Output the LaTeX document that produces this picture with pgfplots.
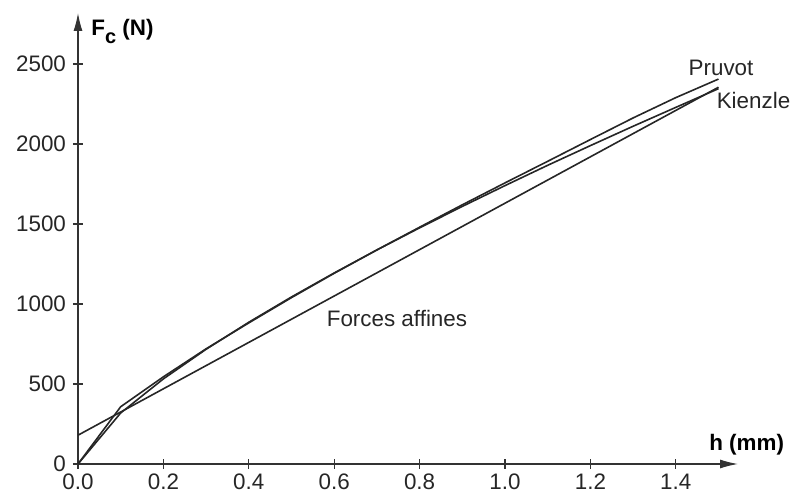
\documentclass[border=0pt]{standalone}
\usepackage{fontspec}
\setmainfont{Liberation Sans}
\usepackage{pgfplots}
\pgfplotsset{compat=1.18}
\usetikzlibrary{arrows.meta}
\begin{document}
\begin{tikzpicture}
\path[use as bounding box] (0,0) rectangle (396pt,248.5pt);
\begin{axis}[
  at={(39pt,16.5pt)}, anchor=south west,
  scale only axis, width=330pt, height=225.5pt,
  xmin=0, xmax=1.5457, ymin=0, ymax=2819,
  axis lines=left,
  axis line style={line width=0.6pt, black!80, -{Latex[length=9pt,width=4.5pt]}},
  clip=false,
  xtick={0,0.2,0.4,0.6,0.8,1.0,1.2,1.4},
  xticklabels={0.0,0.2,0.4,0.6,0.8,1.0,1.2,1.4},
  ytick={0,500,1000,1500,2000,2500},
  yticklabels={0,500,1000,1500,2000,2500},
  tick align=center, major tick length=5pt,
  tick style={line width=0.6pt, black!80},
  every tick label/.append style={font=\fontsize{11.2}{13}\selectfont, text=black!85},
  xticklabel style={yshift=1pt},
]
% Pruvot
\addplot[line width=0.8pt, black!85] coordinates {
(0,0) (0.1,358) (0.2,545) (0.3,720) (0.4,882) (0.5,1040) (0.6,1192)
(0.7,1338) (0.8,1480) (0.9,1620) (1.0,1757) (1.1,1892) (1.2,2028)
(1.3,2163) (1.4,2290) (1.5,2406)};
% Kienzle
\addplot[line width=0.8pt, black!85] coordinates {
(0,0) (0.1,319) (0.2,532) (0.3,717) (0.4,886) (0.5,1044) (0.6,1194)
(0.7,1338) (0.8,1476) (0.9,1610) (1.0,1740) (1.1,1867) (1.2,1990)
(1.3,2111) (1.4,2229) (1.5,2346)};
% Forces affines
\addplot[line width=0.8pt, black!85] coordinates {(0,180) (1.5,2355)};
\node[font=\fontsize{11.2}{13}\selectfont, text=black!85] at (axis cs:1.506,2475) {Pruvot};
\node[font=\fontsize{11.2}{13}\selectfont, text=black!85] at (axis cs:1.582,2272) {Kienzle};
\node[font=\fontsize{11.2}{13}\selectfont, text=black!85] at (axis cs:0.747,912) {Forces affines};
\node[font=\bfseries\fontsize{11.2}{13}\selectfont] at (axis cs:1.566,119) {h (mm)};
\node[font=\bfseries\fontsize{11.2}{13}\selectfont, anchor=west, inner sep=0pt] at (axis cs:0.0304,2706) {F\raisebox{-0.35em}{\fontsize{10}{12}\selectfont c} (N)};
\end{axis}
\end{tikzpicture}
\end{document}
